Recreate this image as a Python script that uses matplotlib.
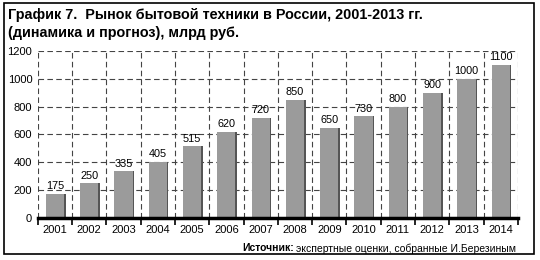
import matplotlib.pyplot as plt
from matplotlib.patches import Rectangle

plt.rcParams['font.family'] = ['Liberation Sans', 'DejaVu Sans']

years = ['2001', '2002', '2003', '2004', '2005', '2006', '2007',
         '2008', '2009', '2010', '2011', '2012', '2013', '2014']
values = [175, 250, 335, 405, 515, 620, 720, 850, 650, 730, 800, 900, 1000, 1100]
yticks = [0, 200, 400, 600, 800, 1000, 1200]

fig = plt.figure(figsize=(5.4, 2.6), dpi=100)
ax = fig.add_axes([0.070, 0.1615, 0.889, 0.6425])

x = range(len(years))
# тень справа от столбика
ax.bar([i + 0.03 for i in x], values, width=0.56, color='#555555', zorder=2)
ax.bar(x, values, width=0.53, color='#9b9b9b', zorder=3)

for i, v in zip(x, values):
    ax.text(i, v + 18, str(v), ha='center', va='bottom', fontsize=7.8, zorder=4)

ax.set_xlim(-0.5, len(years) - 0.5)
ax.set_ylim(0, 1200)
ax.set_yticks(yticks)
ax.set_yticklabels([str(t) for t in yticks], fontsize=8)

# границы категорий: тики и вертикальная сетка
bounds = [i - 0.5 for i in range(len(years) + 1)]
ax.set_xticks(bounds)
ax.set_xticklabels([])
ax.set_xticks(list(x), minor=True)
ax.set_xticklabels(years, minor=True, fontsize=8)
ax.tick_params(axis='x', which='major', direction='out', length=5, width=1.2, color='black')
ax.tick_params(axis='x', which='minor', length=0, pad=5)
ax.tick_params(axis='y', length=0, pad=4)

ax.grid(True, which='major', axis='both', linestyle=(0, (5, 3)), color='#444444',
        linewidth=0.8, zorder=0)

for s in ['top', 'right', 'left']:
    ax.spines[s].set_visible(False)
ax.spines['bottom'].set_linewidth(2.5)
ax.spines['bottom'].set_zorder(5)

fig.text(0.015, 0.942, 'График 7.  Рынок бытовой техники в России, 2001-2013 гг.',
         fontsize=10.4, fontweight='bold', va='center')
fig.text(0.015, 0.873, '(динамика и прогноз), млрд руб.',
         fontsize=10.4, fontweight='bold', va='center')

src = fig.text(0.955, 0.045, 'экспертные оценки, собранные И.Березиным',
               fontsize=7.5, ha='right', va='center')
fig.canvas.draw()
bb = src.get_window_extent()
fig.text(bb.x0 / fig.bbox.width - 0.004, 0.045, 'Источник:', fontsize=7.5,
         fontweight='bold', ha='right', va='center')

fig.patches.append(Rectangle((0.008, 0.023), 0.981, 0.965, transform=fig.transFigure,
                             fill=False, edgecolor='black', linewidth=1.2))

fig.savefig('out.png', dpi=100)
